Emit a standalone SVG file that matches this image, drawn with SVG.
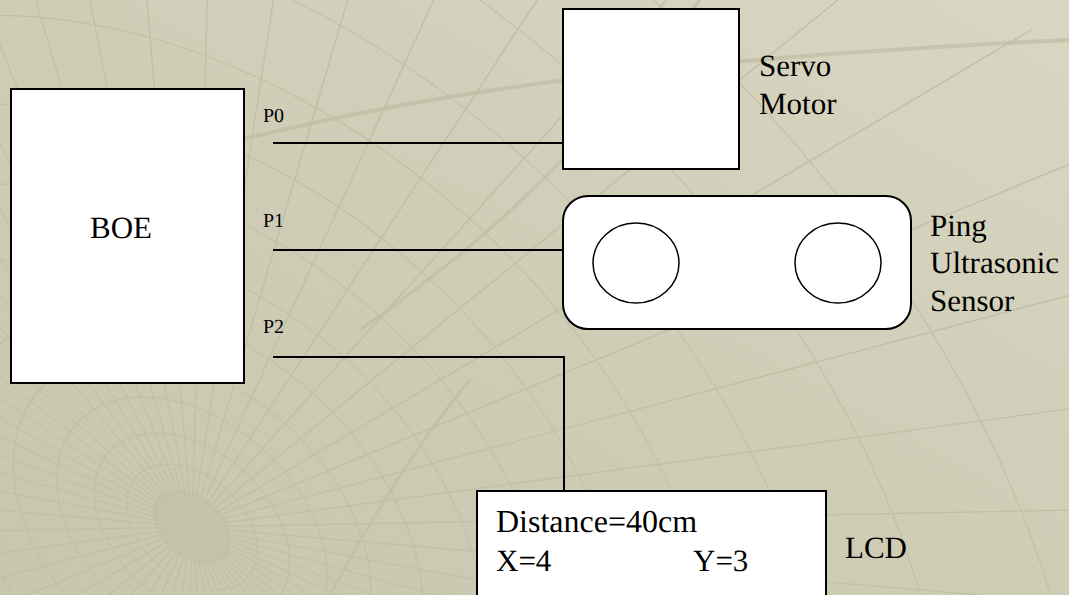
<svg xmlns="http://www.w3.org/2000/svg" xmlns:xlink="http://www.w3.org/1999/xlink" width="1069" height="595" viewBox="0 0 1069 595">
  <style>
    .box { fill: #ffffff; stroke: #000000; stroke-width: 2; }
    .eye { fill: none; stroke: #000000; stroke-width: 1.5; }
    .wire { fill: none; stroke: #000000; stroke-width: 2; }
    text { font-family: "Liberation Serif", "Times New Roman", Times, serif; fill: #000000; text-rendering: geometricPrecision; }
    .lbl { font-size: 31px; }
    .big { font-size: 32px; }
    .pin { font-size: 20px; }
    .grid { fill: none; stroke: #c1bfa7; stroke-width: 1.5; vector-effect: non-scaling-stroke; }
  </style>
  <defs>
    <linearGradient id="bg" x1="0" y1="1" x2="1" y2="0">
      <stop offset="0" stop-color="#c8c6af"/>
      <stop offset="0.5" stop-color="#cfcdb6"/>
      <stop offset="1" stop-color="#d9d7c2"/>
    </linearGradient>
    <line id="ray" x1="40" y1="0" x2="1400" y2="0"/>
    <g id="fan">
      <use xlink:href="#ray"/>
      <use xlink:href="#ray" transform="rotate(6)"/>
      <use xlink:href="#ray" transform="rotate(12)"/>
      <use xlink:href="#ray" transform="rotate(18)"/>
      <use xlink:href="#ray" transform="rotate(24)"/>
      <use xlink:href="#ray" transform="rotate(30)"/>
    </g>
  </defs>

  <!-- textured backdrop -->
  <rect x="0" y="0" width="1069" height="595" fill="url(#bg)"/>
  <g id="backdrop" class="grid" transform="translate(192 527) rotate(42) scale(1 0.68)">
    <ellipse cx="0" cy="0" rx="45" ry="45" fill="#c4c2aa" stroke="none"/>
    <g>
      <use xlink:href="#fan"/>
      <use xlink:href="#fan" transform="rotate(36)"/>
      <use xlink:href="#fan" transform="rotate(72)"/>
      <use xlink:href="#fan" transform="rotate(108)"/>
      <use xlink:href="#fan" transform="rotate(144)"/>
      <use xlink:href="#fan" transform="rotate(180)"/>
      <use xlink:href="#fan" transform="rotate(216)"/>
      <use xlink:href="#fan" transform="rotate(252)"/>
      <use xlink:href="#fan" transform="rotate(288)"/>
      <use xlink:href="#fan" transform="rotate(324)"/>
    </g>
    <circle r="75"/>
    <circle r="112"/>
    <circle r="155"/>
    <circle r="205"/>
    <circle r="265"/>
    <circle r="335"/>
    <circle r="415"/>
    <circle r="505"/>
    <circle r="610"/>
    <circle r="730"/>
    <circle r="870"/>
    <circle r="1030"/>
  </g>
  <g class="grid" opacity="0.8">
    <path d="M240 140 C420 95 640 60 1069 40" stroke-width="4"/>
    <path d="M360 330 C460 260 560 180 700 0" stroke-width="3"/>
    <path d="M330 595 C370 520 420 440 470 380" stroke-width="3"/>
  </g>

  <!-- connectors -->
  <g id="connectors">
    <path class="wire" d="M273 143 H563"/>
    <path class="wire" d="M273 250 H563"/>
    <path class="wire" d="M273 357 H564 V491"/>
    <text class="pin" x="263" y="122">P0</text>
    <text class="pin" x="263" y="227">P1</text>
    <text class="pin" x="263" y="333">P2</text>
  </g>

  <!-- BOE board -->
  <g id="boe">
    <rect class="box" x="11" y="89" width="233" height="294"/>
    <text class="lbl" x="90" y="238">BOE</text>
  </g>

  <!-- servo motor -->
  <g id="servo">
    <rect class="box" x="563" y="9" width="176" height="160"/>
    <text class="lbl" x="759" y="76">Servo</text>
    <text class="lbl" x="759" y="114">Motor</text>
  </g>

  <!-- ping ultrasonic sensor -->
  <g id="ping">
    <rect class="box" x="563" y="196" width="348" height="133" rx="25" ry="25"/>
    <ellipse class="eye" cx="636" cy="263" rx="43" ry="40"/>
    <ellipse class="eye" cx="838" cy="263" rx="43" ry="40"/>
    <text class="lbl" x="930" y="236">Ping</text>
    <text class="lbl" x="930" y="273">Ultrasonic</text>
    <text class="lbl" x="930" y="311">Sensor</text>
  </g>

  <!-- LCD display -->
  <g id="lcd">
    <rect class="box" x="477" y="491" width="349" height="120"/>
    <text class="big" x="496" y="532">Distance=40cm</text>
    <text class="lbl" x="496" y="571">X=4</text>
    <text class="lbl" x="693" y="571">Y=3</text>
    <text class="lbl" x="845" y="558">LCD</text>
  </g>
</svg>
